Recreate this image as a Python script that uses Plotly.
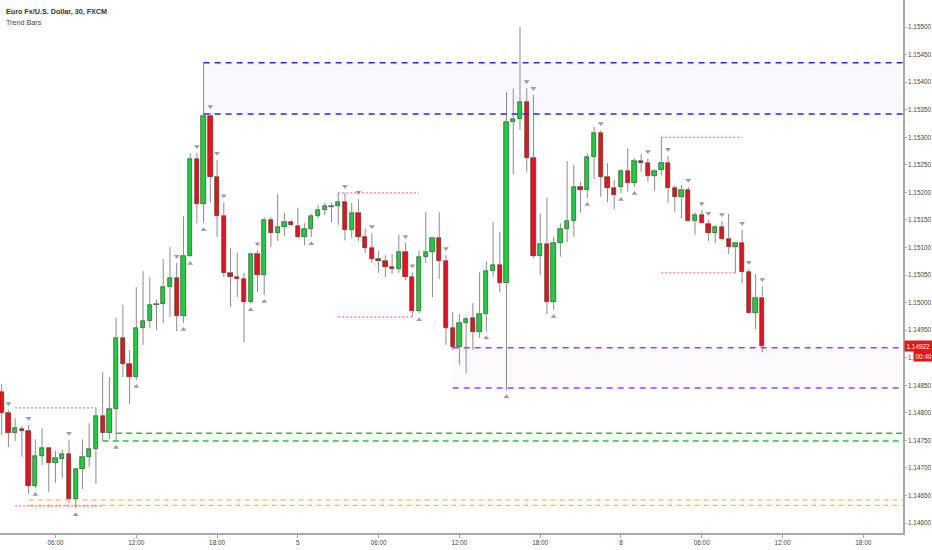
import plotly.graph_objects as go

# EUR/USD 30 min bars
opens = [1.14838, 1.14800, 1.14763, 1.14771, 1.14767, 1.14667, 1.14722, 1.14736, 1.14709, 1.14716,
         1.14725, 1.14644, 1.14698, 1.14720, 1.14734, 1.14794, 1.14763, 1.14807, 1.14936, 1.14889,
         1.14865, 1.14954, 1.14966, 1.14996, 1.14997, 1.15028, 1.15045, 1.14976, 1.15084, 1.15260,
         1.15179, 1.15338, 1.15228, 1.15157, 1.15054, 1.15046, 1.15043, 1.15001, 1.15088, 1.15050,
         1.15150, 1.15126, 1.15137, 1.15146, 1.15139, 1.15119, 1.15134, 1.15157, 1.15168, 1.15174,
         1.15175, 1.15182, 1.15132, 1.15163, 1.15119, 1.15099, 1.15079, 1.15075, 1.15064, 1.15061,
         1.15092, 1.15046, 1.14985, 1.15083, 1.15092, 1.15117, 1.15075, 1.14954, 1.14919, 1.14963,
         1.14972, 1.14947, 1.14979, 1.15057, 1.15068, 1.15035, 1.15328, 1.15333, 1.15364, 1.15262,
         1.15084, 1.15106, 1.15001, 1.15108, 1.15134, 1.15148, 1.15210, 1.15204, 1.15264, 1.15308,
         1.15228, 1.15208, 1.15210, 1.15239, 1.15217, 1.15257, 1.15253, 1.15230, 1.15240, 1.15253,
         1.15208, 1.15192, 1.15204, 1.15148, 1.15159, 1.15143, 1.15126, 1.15137, 1.15115, 1.15101,
         1.15108, 1.15055, 1.14981, 1.15008]
highs = [1.14852, 1.14805, 1.14791, 1.14776, 1.14778, 1.14752, 1.14772, 1.14738, 1.14731, 1.14733,
         1.14751, 1.14700, 1.14752, 1.14781, 1.14810, 1.14874, 1.14865, 1.14972, 1.14996, 1.14914,
         1.15028, 1.15057, 1.15046, 1.15006, 1.15079, 1.15101, 1.15072, 1.15157, 1.15271, 1.15271,
         1.15435, 1.15344, 1.15259, 1.15182, 1.15099, 1.15090, 1.15054, 1.15090, 1.15095, 1.15155,
         1.15155, 1.15197, 1.15163, 1.15150, 1.15172, 1.15144, 1.15161, 1.15177, 1.15181, 1.15181,
         1.15199, 1.15199, 1.15181, 1.15188, 1.15134, 1.15126, 1.15094, 1.15086, 1.15088, 1.15123,
         1.15108, 1.15055, 1.15095, 1.15164, 1.15119, 1.15164, 1.15086, 1.14983, 1.14979, 1.14974,
         1.14999, 1.15055, 1.15075, 1.15146, 1.15128, 1.15382, 1.15388, 1.15500, 1.15389, 1.15377,
         1.15161, 1.15190, 1.15119, 1.15144, 1.15257, 1.15250, 1.15219, 1.15270, 1.15319, 1.15313,
         1.15253, 1.15222, 1.15242, 1.15280, 1.15262, 1.15270, 1.15262, 1.15242, 1.15300, 1.15266,
         1.15213, 1.15213, 1.15210, 1.15164, 1.15168, 1.15150, 1.15141, 1.15148, 1.15161, 1.15110,
         1.15132, 1.15061, 1.15052, 1.15030]
lows = [1.14760, 1.14738, 1.14749, 1.14720, 1.14653, 1.14664, 1.14705, 1.14656, 1.14673, 1.14682,
        1.14636, 1.14627, 1.14662, 1.14702, 1.14671, 1.14749, 1.14752, 1.14749, 1.14865, 1.14816,
        1.14860, 1.14923, 1.14954, 1.14950, 1.14963, 1.14974, 1.14948, 1.14963, 1.15083, 1.15144,
        1.15144, 1.15181, 1.15119, 1.15046, 1.14992, 1.15010, 1.14928, 1.14999, 1.15019, 1.15014,
        1.15101, 1.15112, 1.15121, 1.15139, 1.15117, 1.15104, 1.15119, 1.15153, 1.15159, 1.15146,
        1.15141, 1.15113, 1.15117, 1.15112, 1.15090, 1.15072, 1.15054, 1.15046, 1.15052, 1.15054,
        1.15041, 1.14974, 1.14981, 1.15072, 1.15010, 1.15043, 1.14923, 1.14914, 1.14887, 1.14872,
        1.14914, 1.14936, 1.14948, 1.15046, 1.15019, 1.14841, 1.15233, 1.15313, 1.15237, 1.15081,
        1.15050, 1.14979, 1.14987, 1.15083, 1.15110, 1.15119, 1.15163, 1.15190, 1.15224, 1.15192,
        1.15182, 1.15170, 1.15199, 1.15201, 1.15210, 1.15237, 1.15219, 1.15202, 1.15231, 1.15181,
        1.15164, 1.15153, 1.15148, 1.15123, 1.15144, 1.15112, 1.15108, 1.15113, 1.15088, 1.15054,
        1.15035, 1.14981, 1.14952, 1.14910]
closes = [1.14800, 1.14763, 1.14772, 1.14767, 1.14667, 1.14722, 1.14736, 1.14709, 1.14718, 1.14725,
          1.14644, 1.14698, 1.14720, 1.14734, 1.14794, 1.14763, 1.14807, 1.14936, 1.14889, 1.14865,
          1.14954, 1.14966, 1.14996, 1.14997, 1.15028, 1.15045, 1.14976, 1.15084, 1.15260, 1.15179,
          1.15338, 1.15228, 1.15157, 1.15054, 1.15046, 1.15043, 1.15001, 1.15088, 1.15050, 1.15150,
          1.15126, 1.15137, 1.15146, 1.15141, 1.15119, 1.15134, 1.15157, 1.15168, 1.15175, 1.15175,
          1.15182, 1.15132, 1.15163, 1.15119, 1.15099, 1.15079, 1.15075, 1.15064, 1.15061, 1.15092,
          1.15046, 1.14985, 1.15083, 1.15092, 1.15117, 1.15075, 1.14954, 1.14919, 1.14963, 1.14970,
          1.14947, 1.14979, 1.15057, 1.15068, 1.15035, 1.15328, 1.15333, 1.15364, 1.15262, 1.15084,
          1.15106, 1.15001, 1.15108, 1.15134, 1.15148, 1.15210, 1.15204, 1.15264, 1.15308, 1.15228,
          1.15208, 1.15195, 1.15239, 1.15217, 1.15257, 1.15253, 1.15230, 1.15239, 1.15253, 1.15208,
          1.15192, 1.15204, 1.15148, 1.15159, 1.15144, 1.15126, 1.15137, 1.15115, 1.15101, 1.15108,
          1.15055, 1.14981, 1.15008, 1.14922]

# trend bar signals (bar indices)
down_signals = [1, 4, 10, 26, 29, 31, 32, 33, 38, 51, 53, 55, 60, 61, 66, 78, 79, 89, 96, 99,
                102, 104, 105, 107, 110, 111, 113]
up_signals = [5, 11, 17, 20, 27, 28, 30, 37, 39, 46, 62, 72, 75, 82, 87, 92, 94]

# x axis labels (bar index -> text)
tick_idx = [8, 20, 32, 44, 56, 68, 80, 92, 104, 116, 128]
tick_labels = ["06:00", "12:00", "18:00", "5", "06:00", "12:00", "18:00", "8", "06:00", "12:00", "18:00"]

# support / resistance zones: (upper, lower, start bar)
blue_zone = (1.15435, 1.15342, 30)
purple_zone = (1.14918, 1.14845, 67)
green_levels = [(1.14763, 17), (1.14749, 15)]
orange_levels = [(1.14642, 4), (1.14632, 4)]
# short dotted levels: (price, start bar, end bar)
pink_levels = [(1.14809, 2, 14), (1.14631, 2, 15), (1.15199, 50, 62), (1.14974, 50, 61),
               (1.15300, 98, 110), (1.15054, 98, 109)]

countdown = "00:40"

FONT = "Liberation Sans Narrow, Arial Narrow, Liberation Sans, sans-serif"
GREEN = "#22cc3c"
RED = "#e8141a"
TICK_SIZE = 6.4

n = len(opens)
idx = list(range(n))
x_max = n + 19.9
colors = [GREEN if c >= o else RED for o, c in zip(opens, closes)]

# wicks split around the body so they don't cross it
wx, wy = [], []
for i in idx:
    top = max(opens[i], closes[i])
    bot = min(opens[i], closes[i])
    wx += [i, i, None, i, i, None]
    wy += [highs[i], top, None, bot, lows[i], None]

fig = go.Figure()

shapes = []
for (hi, lo, start), fillc, linec in [(blue_zone, "rgba(60,60,230,0.035)", "#2b2bd4"),
                                      (purple_zone, "rgba(150,60,230,0.03)", "#a040f0")]:
    shapes.append(dict(type="rect", xref="x", yref="y", x0=start, x1=x_max, y0=lo, y1=hi,
                       fillcolor=fillc, line_width=0, layer="below"))
    for p in (hi, lo):
        shapes.append(dict(type="line", xref="x", yref="y", x0=start, x1=x_max, y0=p, y1=p,
                           line=dict(color=linec, width=1.5, dash="6px,5px")))
for p, start in green_levels:
    shapes.append(dict(type="line", xref="x", yref="y", x0=start, x1=x_max, y0=p, y1=p,
                       line=dict(color="#3cb83c", width=1.5, dash="6px,4px")))
for p, start in orange_levels:
    shapes.append(dict(type="line", xref="x", yref="y", x0=start, x1=x_max, y0=p, y1=p,
                       line=dict(color="#f5b865", width=1.3, dash="5px,4px")))
for p, start, end in pink_levels:
    shapes.append(dict(type="line", xref="x", yref="y", x0=start, x1=end, y0=p, y1=p,
                       line=dict(color="#ee5577", width=1, dash="2px,2px")))

fig.add_trace(go.Scatter(x=wx, y=wy, mode="lines", line=dict(color="#8c8c8c", width=1),
                         hoverinfo="skip", showlegend=False))
fig.add_trace(go.Bar(
    x=idx,
    y=[max(abs(c - o), 0.000015) for o, c in zip(opens, closes)],
    base=[min(o, c) for o, c in zip(opens, closes)],
    width=0.64,
    marker=dict(color=colors, line=dict(color="#2a2a2a", width=0.6)),
    hoverinfo="skip", showlegend=False,
))

off = 0.00012
fig.add_trace(go.Scatter(x=down_signals, y=[highs[i] + off for i in down_signals], mode="markers",
                         marker=dict(symbol="triangle-down", size=5, color="#9a9a9a"),
                         hoverinfo="skip", showlegend=False))
fig.add_trace(go.Scatter(x=up_signals, y=[lows[i] - off for i in up_signals], mode="markers",
                         marker=dict(symbol="triangle-up", size=5, color="#9a9a9a"),
                         hoverinfo="skip", showlegend=False))

annotations = [
    dict(text="<b>Euro Fx/U.S. Dollar, 30, FXCM</b>", xref="paper", yref="paper", x=0.004, y=0.979,
         xanchor="left", yanchor="middle", showarrow=False, font=dict(size=7.2, color="#333")),
    dict(text="Trend Bars", xref="paper", yref="paper", x=0.004, y=0.958,
         xanchor="left", yanchor="middle", showarrow=False, font=dict(size=7.2, color="#444")),
    dict(text="%.5f" % closes[-1], xref="paper", yref="y", x=1, y=closes[-1], xanchor="left",
         xshift=1, showarrow=False, bgcolor=RED, borderpad=1.5,
         font=dict(size=TICK_SIZE, color="white")),
    dict(text=countdown, xref="paper", yref="y", x=1, y=closes[-1], xanchor="left", yshift=-10,
         xshift=10, showarrow=False, bgcolor=RED, borderpad=1.5,
         font=dict(size=TICK_SIZE, color="white")),
]

fig.update_layout(
    width=932, height=550,
    margin=dict(l=0, r=29, t=0, b=17, autoexpand=False),
    paper_bgcolor="white", plot_bgcolor="white",
    font=dict(family=FONT, size=TICK_SIZE, color="#444"),
    shapes=shapes, annotations=annotations,
    bargap=0, showlegend=False,
)
fig.update_xaxes(range=[-0.25, x_max], tickvals=tick_idx, ticktext=tick_labels, automargin=False,
                 showgrid=False, zeroline=False, showline=True, linecolor="#a8a8a8", linewidth=1.5,
                 ticks="outside", ticklen=3, tickcolor="#a8a8a8",
                 tickfont=dict(size=TICK_SIZE, color="#444"))
fig.update_yaxes(range=[1.14582, 1.15549], side="right", dtick=0.0005, tick0=1.146, tickformat=".5f",
                 automargin=False,
                 showgrid=False, zeroline=False, showline=True, linecolor="#a8a8a8", linewidth=1.5,
                 ticks="outside", ticklen=2, tickcolor="#a8a8a8",
                 tickfont=dict(size=TICK_SIZE, color="#444"))

# page body margin would push the 932x550 figure off the window
fig.write_html("out.html", config={"displayModeBar": False},
               post_script="document.body.style.margin='0';")
